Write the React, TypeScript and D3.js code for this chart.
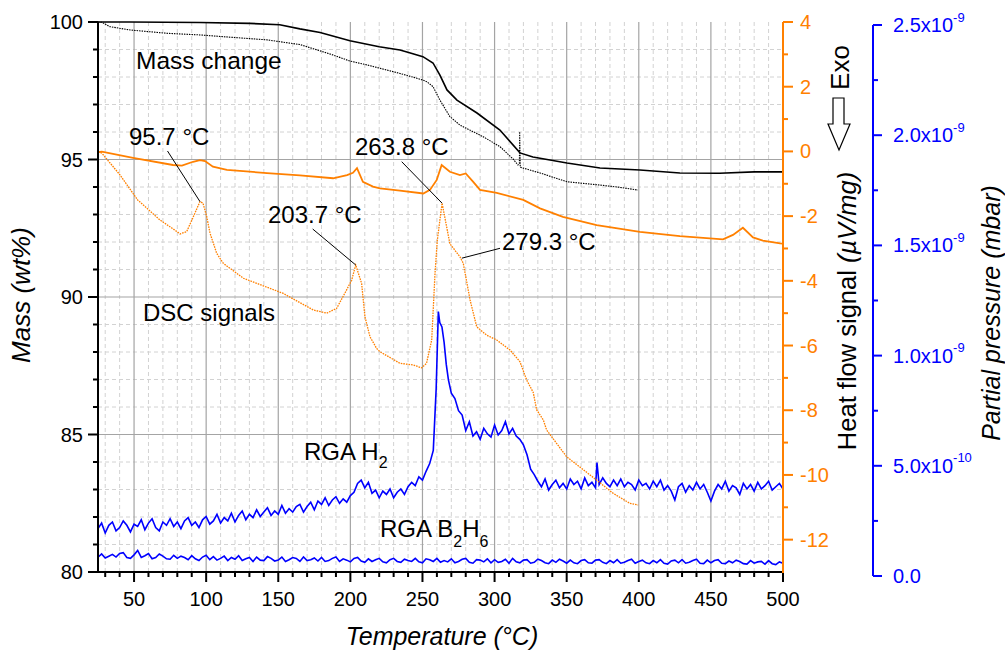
import React from 'react';
import * as d3 from 'd3';

type P = [number, number];

// Temperature (°C) vs mass (wt%) — solid trace
const massSolid: P[] = [
  [25, 100.0], [47, 100.0], [95.7, 99.98], [130, 99.95], [151, 99.9], [165, 99.75], [179, 99.62],
  [199.7, 99.32], [220, 99.1], [234.4, 98.98], [241, 98.88], [250.3, 98.74], [257.3, 98.51],
  [262.1, 98.07], [267, 97.53], [273.9, 97.16], [287.8, 96.69], [303.7, 96.07], [317.6, 95.24],
  [326.6, 95.09], [350.2, 94.87], [373.1, 94.69], [400.8, 94.62], [428.5, 94.51], [456, 94.5],
  [480, 94.55], [500, 94.55],
];
// mass — dotted trace
const massDotted: P[] = [
  [25, 100.0], [27.6, 99.99], [33.3, 99.83], [47.2, 99.71], [72.6, 99.59], [95.7, 99.53],
  [118.6, 99.44], [142.2, 99.35], [165, 99.18], [188, 98.8], [199.7, 98.58], [211.5, 98.44],
  [234.4, 98.13], [250.3, 97.89], [253, 97.83], [257.3, 97.65], [262.1, 97.16], [269, 96.56],
  [276, 96.25], [292, 95.83], [303.7, 95.47], [312.8, 95.02], [316.2, 94.8], [317.2, 94.85],
  [317.4, 96.01], [317.8, 94.72], [319.7, 94.69], [331.5, 94.51], [350.2, 94.19], [373.1, 94.07],
  [385, 94.0], [399.4, 93.89],
];
// heat flow (µV/mg) — solid trace
const dscSolid: P[] = [
  [25, -0.02], [27.6, -0.01], [49.3, -0.2], [77, -0.42], [83.2, -0.44], [90.9, -0.32], [95.7, -0.27],
  [99.2, -0.3], [104.7, -0.47], [114.4, -0.57], [142.2, -0.67], [165, -0.74], [188, -0.83],
  [197.7, -0.73], [201.8, -0.66], [204.6, -0.52], [208.7, -0.94], [215.7, -1.09], [220.5, -1.14],
  [234.4, -1.21], [250.6, -1.3], [255.2, -1.19], [259.9, -0.88], [263.3, -0.42], [269, -0.63],
  [276, -0.73], [280, -0.68], [285.2, -0.94], [289.9, -1.19], [301.5, -1.28], [319.9, -1.5],
  [331.5, -1.76], [347.4, -2.02], [370.8, -2.28], [400.8, -2.49], [428.5, -2.62], [458.4, -2.72],
  [465.3, -2.58], [472.2, -2.36], [479.2, -2.66], [486, -2.76], [498, -2.84], [500, -2.85],
];
// heat flow — dotted trace
const dscDotted: P[] = [
  [25, -0.02], [27.6, -0.05], [40.3, -0.73], [52.5, -1.5], [68, -2.12], [77.2, -2.4], [81.9, -2.55],
  [86.5, -2.48], [91.1, -2.02], [95.7, -1.55], [97.8, -1.6], [100.4, -2.02], [102.7, -2.53],
  [107.3, -3.15], [111.9, -3.46], [125.8, -3.92], [153.5, -4.39], [174.3, -4.9], [183.6, -5.0],
  [190.5, -4.85], [197.4, -4.28], [200.9, -3.98], [203.7, -3.51], [207.8, -4.08], [210.1, -5.11],
  [213.6, -5.73], [218.2, -6.09], [220.5, -6.19], [234.4, -6.55], [243.6, -6.6], [249.4, -6.69],
  [252.8, -6.55], [256.4, -5.83], [258.7, -3.77], [260.3, -2.74], [263.6, -1.6], [269, -2.85],
  [276, -3.26], [278.3, -3.46], [283, -4.59], [287.6, -5.42], [294.5, -5.68], [301.5, -5.83],
  [310.7, -6.14], [317.6, -6.5], [322.3, -7.07], [326.8, -7.45], [329.2, -7.99], [333.8, -8.3],
  [336.1, -8.61], [339.6, -8.82], [350, -9.44], [366.2, -10.0], [382.3, -10.57], [393.9, -10.88],
  [399.6, -10.93],
];
// RGA H2 partial pressure, units of 1e-10 mbar
const rgaH2: P[] = [
  [25, 2.15], [27.5, 2.4], [30, 1.95], [32.5, 2.3], [35, 2.45], [37.5, 2.05], [40, 2.2], [42.5, 2.5],
  [45, 2.3], [47.5, 2.0], [50, 2.35], [52.5, 2.25], [55, 2.55], [57.5, 2.1], [60, 2.4], [62.5, 2.6],
  [65, 2.2], [67.5, 2.05], [70, 2.45], [72.5, 2.3], [75, 2.6], [77.5, 2.25], [80, 2.45], [82.5, 2.15],
  [85, 2.5], [87.5, 2.65], [90, 2.3], [92.5, 2.45], [95, 2.2], [97.5, 2.55], [100, 2.7], [102.5, 2.35],
  [105, 2.5], [107.5, 2.8], [110, 2.4], [112.5, 2.65], [115, 2.5], [117.5, 2.85], [120, 2.45],
  [122.5, 2.75], [125, 2.95], [127.5, 2.55], [130, 2.8], [132.5, 2.65], [135, 3.0], [137.5, 2.7],
  [140, 2.9], [142.5, 3.1], [145, 2.75], [147.5, 2.95], [150, 2.8], [152.5, 3.2], [155, 2.85],
  [157.5, 3.05], [160, 2.9], [162.5, 3.15], [165, 3.25], [167.5, 2.9], [170, 3.15], [172.5, 3.35],
  [175, 3.0], [177.5, 3.4], [180, 3.25], [182.5, 3.55], [185, 3.2], [187.5, 3.45], [190, 3.6],
  [192.5, 3.3], [195, 3.5], [197.5, 3.35], [200, 3.65], [202.5, 3.8], [205, 4.2], [207.5, 4.35],
  [210, 4.0], [212.5, 4.25], [215, 3.75], [217.5, 3.9], [220, 3.55], [222.5, 3.85], [225, 3.7],
  [227.5, 3.95], [230, 3.55], [232.5, 3.8], [235, 3.95], [237.5, 3.7], [240, 4.05], [242.5, 4.25],
  [245, 4.1], [247.5, 4.5], [250, 4.35], [252.5, 4.75], [255, 5.1], [257.5, 5.7], [259.5, 8.5],
  [261, 12.0], [262, 11.5], [263.5, 11.3], [265, 10.6], [266.5, 9.6], [268, 8.9], [270, 8.3],
  [272.5, 8.05], [275, 7.5], [277.5, 7.3], [280, 6.6], [282.5, 7.0], [285, 6.35], [287.5, 6.55],
  [290, 6.2], [292.5, 6.7], [295, 6.45], [297.5, 6.3], [300, 6.85], [302.5, 6.4], [305, 6.6],
  [307.5, 7.0], [310, 6.45], [312.5, 6.7], [315, 6.35], [317.5, 6.2], [320, 5.95], [322.5, 5.5],
  [325, 4.85], [327.5, 4.6], [330, 4.3], [332.5, 4.05], [335, 4.4], [337.5, 3.9], [340, 4.15],
  [342.5, 4.35], [345, 4.0], [347.5, 4.2], [350, 3.95], [352.5, 4.4], [355, 4.15], [357.5, 4.3],
  [360, 3.95], [362.5, 4.45], [365, 4.1], [367.5, 4.25], [370, 4.0], [371, 5.15], [372.5, 4.15],
  [375, 4.45], [377.5, 4.2], [380, 4.05], [382.5, 4.35], [385, 4.1], [387.5, 4.4], [390, 4.05],
  [392.5, 4.25], [395, 4.15], [397.5, 3.9], [400, 4.35], [402.5, 4.1], [405, 4.2], [407.5, 3.95],
  [410, 4.3], [412.5, 4.05], [415, 4.35], [417.5, 3.9], [420, 4.1], [422.5, 3.85], [425, 3.45],
  [427.5, 4.05], [430, 4.2], [432.5, 3.8], [435, 4.1], [437.5, 3.9], [440, 4.25], [442.5, 3.95],
  [445, 4.15], [447.5, 3.8], [450, 3.4], [452.5, 3.85], [455, 4.15], [457.5, 3.95], [460, 4.3],
  [462.5, 3.85], [465, 4.1], [467.5, 4.0], [470, 3.7], [472.5, 4.2], [475, 3.95], [477.5, 4.15],
  [480, 3.85], [482.5, 4.25], [485, 3.95], [487.5, 4.1], [490, 4.3], [492.5, 3.9], [495, 4.05],
  [497.5, 4.2], [500, 3.95],
];
// RGA B2H6 partial pressure, units of 1e-10 mbar, sampled every 2.5 °C from 25 °C
const rgaB2H6Values: number[] = [
  0.85, 1.0, 0.82, 0.9, 0.98, 0.86, 1.02, 1.06, 0.84, 0.8, 0.96, 1.16, 0.84, 0.92, 1.02, 0.78, 0.84, 1.0,
  0.9, 0.78, 0.76, 0.94, 0.8, 0.9, 0.84, 0.74, 0.92, 0.78, 0.7, 0.86, 0.94, 0.74, 0.88, 0.72, 0.8, 0.9,
  0.7, 0.84, 0.76, 0.92, 0.7, 0.78, 0.84, 0.66, 0.86, 0.72, 0.7, 0.88, 0.8, 0.68, 0.72, 0.86, 0.66, 0.74,
  0.84, 0.8, 0.66, 0.86, 0.7, 0.74, 0.82, 0.68, 0.84, 0.66, 0.7, 0.8, 0.86, 0.66, 0.78, 0.72, 0.64, 0.8,
  0.84, 0.68, 0.62, 0.78, 0.66, 0.74, 0.8, 0.64, 0.6, 0.74, 0.8, 0.66, 0.62, 0.76, 0.7, 0.66, 0.8, 0.64,
  0.6, 0.78, 0.74, 0.66, 0.8, 0.62, 0.7, 0.64, 0.78, 0.6, 0.66, 0.76, 0.8, 0.62, 0.58, 0.74, 0.72, 0.64,
  0.78, 0.6, 0.74, 0.62, 0.66, 0.76, 0.58, 0.8, 0.64, 0.6, 0.72, 0.74, 0.58, 0.62, 0.76, 0.7, 0.6, 0.56,
  0.72, 0.62, 0.76, 0.68, 0.58, 0.72, 0.6, 0.56, 0.7, 0.74, 0.6, 0.58, 0.72, 0.74, 0.62, 0.56, 0.7, 0.6,
  0.74, 0.58, 0.62, 0.7, 0.76, 0.58, 0.66, 0.72, 0.6, 0.56, 0.7, 0.6, 0.74, 0.58, 0.54, 0.68, 0.72, 0.6,
  0.74, 0.58, 0.62, 0.7, 0.76, 0.58, 0.56, 0.72, 0.6, 0.7, 0.74, 0.58, 0.56, 0.68, 0.6, 0.72, 0.66, 0.56,
  0.54, 0.7, 0.58, 0.64, 0.66, 0.54, 0.7, 0.56, 0.52, 0.64, 0.58,
];

const tempTicks = [50, 100, 150, 200, 250, 300, 350, 400, 450, 500];
const massTicks = [80, 85, 90, 95, 100];
const heatTicks = [-12, -10, -8, -6, -4, -2, 0, 2, 4];
const pressTicks = [0, 5, 10, 15, 20, 25]; // ×1e-10 mbar

const peaks = [
  { label: '95.7 °C', t: 95.7, v: -1.55 },
  { label: '203.7 °C', t: 203.7, v: -3.51 },
  { label: '263.8 °C', t: 263.6, v: -1.6 },
  { label: '279.3 °C', t: 277.3, v: -3.3 },
];

const ORANGE = '#ff8000';
const BLUE = '#0000ff';
const FONT = "'Liberation Sans', Arial, Helvetica, sans-serif";

export default function App() {
  const W = 1005, H = 650;
  const L = 98, R = 783, T = 22, B = 572;
  const x = d3.scaleLinear().domain([25, 500]).range([L, R]);
  const yM = d3.scaleLinear().domain([80, 100]).range([B, T]);
  const yD = d3.scaleLinear().domain([-13, 4]).range([B, T]);
  const yP = d3.scaleLinear().domain([0, 25]).range([576, 25]);
  const PX = 873;

  const lineM = d3.line<P>().x(d => x(d[0])).y(d => yM(d[1]));
  const lineD = d3.line<P>().x(d => x(d[0])).y(d => yD(d[1]));
  const lineP = d3.line<P>().x(d => x(d[0])).y(d => yP(d[1]));
  const b2h6: P[] = rgaB2H6Values.map((v, i) => [25 + 2.5 * i, v]);

  const minorT = d3.range(30, 500, 10).filter(t => t % 50 !== 0);
  const minorM = d3.range(81, 101, 1).filter(m => m % 5 !== 0);
  const minorD = d3.range(-11, 4, 2);
  const minorP = d3.range(2.5, 25, 5);

  const pressLabel = (v: number) => {
    if (v === 0) return { m: '0.0', e: '' };
    if (v < 10) return { m: v.toFixed(1) + 'x10', e: '-10' };
    return { m: (v / 10).toFixed(1) + 'x10', e: '-9' };
  };

  const annPos: Record<string, { tx: number; ty: number; lx: number; ly: number }> = {
    '95.7 °C': { tx: 129, ty: 145, lx: 167.5, ly: 151 },
    '203.7 °C': { tx: 268, ty: 223, lx: 312.7, ly: 229 },
    '263.8 °C': { tx: 355, ty: 155, lx: 401.7, ly: 161.7 },
    '279.3 °C': { tx: 502, ty: 250, lx: 500, ly: 248.3 },
  };

  return (
    <svg width={W} height={H} style={{ position: 'absolute', left: 0, top: 0, background: '#fff' }}
      fontFamily={FONT}>
      <rect x={0} y={0} width={W} height={H} fill="#fff" />
      {/* grid */}
      <g>
        {minorT.map(t => (
          <line key={'gt' + t} x1={x(t)} x2={x(t)} y1={T} y2={B} stroke="#d2d2d2" strokeDasharray="4,3" strokeWidth={1} />
        ))}
        {minorM.map(m => (
          <line key={'gm' + m} x1={L} x2={R} y1={yM(m)} y2={yM(m)} stroke="#d2d2d2" strokeDasharray="4,3" strokeWidth={1} />
        ))}
        {tempTicks.filter(t => t < 500).map(t => (
          <line key={'GT' + t} x1={x(t)} x2={x(t)} y1={T} y2={B} stroke="#a4a4a4" strokeWidth={1.2} />
        ))}
        {[85, 90, 95].map(m => (
          <line key={'GM' + m} x1={L} x2={R} y1={yM(m)} y2={yM(m)} stroke="#a4a4a4" strokeWidth={1.2} />
        ))}
      </g>

      {/* data */}
      <path d={lineP(b2h6) || ''} fill="none" stroke={BLUE} strokeWidth={1.6} />
      <path d={lineP(rgaH2) || ''} fill="none" stroke={BLUE} strokeWidth={1.6} />
      <path d={lineD(dscDotted) || ''} fill="none" stroke={ORANGE} strokeWidth={1.3} strokeDasharray="1.6,1" />
      <path d={lineD(dscSolid) || ''} fill="none" stroke={ORANGE} strokeWidth={1.8} />
      <path d={lineM(massDotted) || ''} fill="none" stroke="#000" strokeWidth={1.1} strokeDasharray="1.5,1" />
      <path d={lineM(massSolid) || ''} fill="none" stroke="#000" strokeWidth={1.6} />

      {/* left axis */}
      <line x1={L} x2={L} y1={T} y2={B + 1} stroke="#000" strokeWidth={2} />
      {massTicks.map(m => (
        <g key={'lm' + m}>
          <line x1={L - 10} x2={L} y1={yM(m)} y2={yM(m)} stroke="#000" strokeWidth={2} />
          <text x={83} y={yM(m)} dy="0.35em" textAnchor="end" fontSize={20}>{m}</text>
        </g>
      ))}
      {minorM.map(m => (
        <line key={'lmm' + m} x1={L - 5} x2={L} y1={yM(m)} y2={yM(m)} stroke="#000" strokeWidth={2} />
      ))}

      {/* bottom axis */}
      <line x1={L - 1} x2={R} y1={B} y2={B} stroke="#000" strokeWidth={2} />
      {tempTicks.map(t => (
        <g key={'bt' + t}>
          <line x1={x(t)} x2={x(t)} y1={B} y2={B + 10} stroke="#000" strokeWidth={2} />
          <text x={x(t)} y={606} textAnchor="middle" fontSize={20}>{t}</text>
        </g>
      ))}
      {minorT.map(t => (
        <line key={'btm' + t} x1={x(t)} x2={x(t)} y1={B} y2={B + 5} stroke="#000" strokeWidth={2} />
      ))}

      {/* heat flow axis */}
      <line x1={R} x2={R} y1={T} y2={B + 1} stroke={ORANGE} strokeWidth={2} />
      {heatTicks.map(v => (
        <g key={'hd' + v}>
          <line x1={R} x2={R + 10} y1={yD(v)} y2={yD(v)} stroke={ORANGE} strokeWidth={2} />
          <text x={800} y={yD(v)} dy="0.35em" fontSize={20} fill={ORANGE}>{v}</text>
        </g>
      ))}
      {minorD.map(v => (
        <line key={'hdm' + v} x1={R} x2={R + 5} y1={yD(v)} y2={yD(v)} stroke={ORANGE} strokeWidth={2} />
      ))}

      {/* pressure axis */}
      <line x1={PX} x2={PX} y1={yP(25)} y2={yP(0)} stroke={BLUE} strokeWidth={2} />
      {pressTicks.map(v => {
        const lab = pressLabel(v);
        return (
          <g key={'pp' + v}>
            <line x1={PX} x2={PX + 9} y1={yP(v)} y2={yP(v)} stroke={BLUE} strokeWidth={2} />
            <text x={893} y={yP(v)} dy="0.35em" fontSize={20} fill={BLUE}>
              {lab.m}
              {lab.e && <tspan fontSize={13} dy="-0.8em">{lab.e}</tspan>}
            </text>
          </g>
        );
      })}
      {minorP.map(v => (
        <line key={'ppm' + v} x1={PX} x2={PX + 5} y1={yP(v)} y2={yP(v)} stroke={BLUE} strokeWidth={2} />
      ))}

      {/* axis titles */}
      <text transform="translate(30,295) rotate(-90)" textAnchor="middle" fontSize={26} fontStyle="italic">Mass (wt%)</text>
      <text x={442} y={645} textAnchor="middle" fontSize={25} fontStyle="italic">Temperature (°C)</text>
      <text transform="translate(856,311) rotate(-90)" textAnchor="middle" fontSize={25.5}>
        Heat flow signal <tspan fontStyle="italic">(µV/mg)</tspan>
      </text>
      <text transform="translate(1000,313) rotate(-90)" textAnchor="middle" fontSize={25} fontStyle="italic">Partial pressure (mbar)</text>
      <text transform="translate(849,67.5) rotate(-90)" textAnchor="middle" fontSize={26}>Exo</text>
      <path d="M833,98 L844,98 L844,124 L850,124 L839,150 L828,124 L833,124 Z" fill="#fff" stroke="#000" strokeWidth={1.2} />

      {/* annotations */}
      <text x={136} y={69} fontSize={24.5}>Mass change</text>
      <text x={143} y={321} fontSize={24}>DSC signals</text>
      <text x={304} y={460} fontSize={24}>RGA H<tspan fontSize={16} dy={8}>2</tspan></text>
      <text x={380} y={537} fontSize={24}>
        RGA B<tspan fontSize={16} dy={10}>2</tspan><tspan dy={-10}>H</tspan><tspan fontSize={16} dy={10}>6</tspan>
      </text>
      {peaks.map(p => {
        const a = annPos[p.label];
        return (
          <g key={p.label}>
            <line x1={a.lx} y1={a.ly} x2={x(p.t)} y2={yD(p.v)} stroke="#000" strokeWidth={1} />
            <text x={a.tx} y={a.ty} fontSize={24}>{p.label}</text>
          </g>
        );
      })}
    </svg>
  );
}
